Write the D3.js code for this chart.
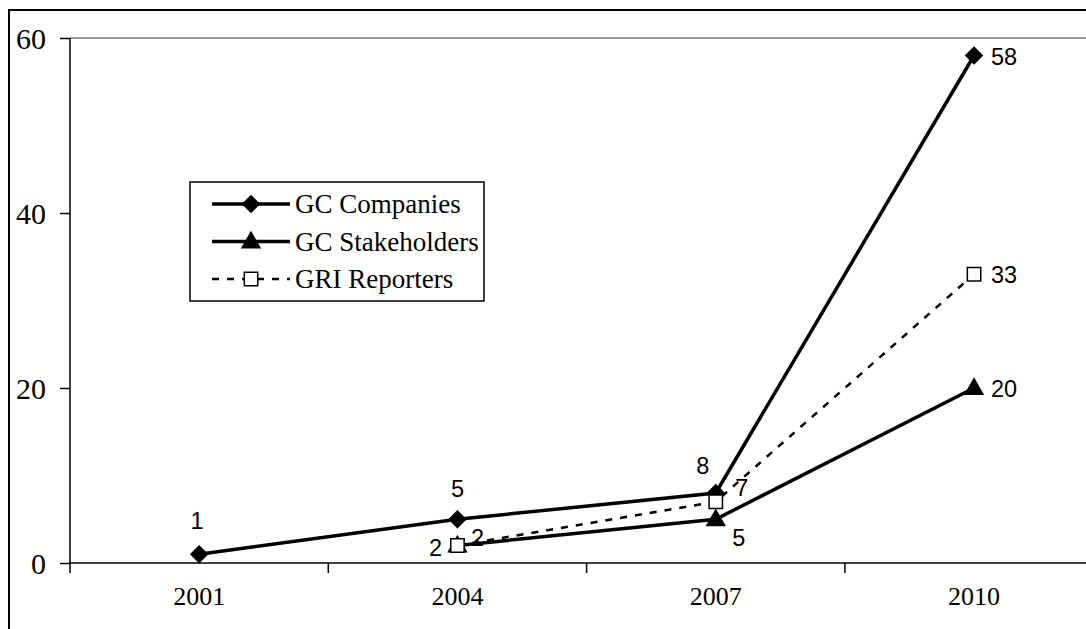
<!DOCTYPE html>
<html>
<head>
<meta charset="utf-8">
<script src="https://cdn.jsdelivr.net/npm/d3@7"></script>
<style>
  body { margin: 0; background: #fff; }
  svg { display: block; }
</style>
</head>
<body>
<svg width="1086" height="629"></svg>
<script>
// chart values
const years = ['2001', '2004', '2007', '2010']
const gcCompanies = [1, 5, 8, 58]
const gcStakeholders = [null, 2, 5, 20]
const griReporters = [null, 2, 7, 33]
const yTicks = [0, 20, 40, 60]
const seriesNames = ['GC Companies', 'GC Stakeholders', 'GRI Reporters']

// label placement per series (dx, dy, anchor) - styling only
const labelPlace = {
    'GC Companies':    [[-2, -25, 'middle'], [0, -22.5, 'middle'], [-13, -19.5, 'middle'], [17, 9, 'start']],
    'GC Stakeholders': [null, [-22, 10, 'middle'], [23, 26.5, 'middle'], [17, 9, 'start']],
    'GRI Reporters':   [null, [20, 0, 'middle'], [26, -6, 'middle'], [17, 9, 'start']]
}

const svg = d3.select('svg')
const plot = {left: 70, top: 38, bottom: 563, bandW: 258.3}

const x = d3.scaleBand()
    .domain(years)
    .range([plot.left, plot.left + plot.bandW * years.length])
    .paddingInner(0).paddingOuter(0)
const cx = d => x(d) + x.bandwidth() / 2

const y = d3.scaleLinear()
    .domain([0, 60])
    .range([plot.bottom, plot.top])

// outer frame
svg.append('rect')
    .attr('x', 9).attr('y', 10)
    .attr('width', 1200).attr('height', 700)
    .attr('fill', 'none').attr('stroke', '#000').attr('stroke-width', 2)

// top plot border (gray)
svg.append('line')
    .attr('x1', plot.left).attr('x2', 1100)
    .attr('y1', y(60)).attr('y2', y(60))
    .attr('stroke', '#999').attr('stroke-width', 2)

// y axis
const yAxis = svg.append('g')
    .attr('transform', `translate(${plot.left},0)`)
    .call(d3.axisLeft(y).tickValues(yTicks).tickSize(10).tickPadding(14).tickFormat(d3.format('d')))
yAxis.select('.domain').attr('stroke', '#000').attr('stroke-width', 1.5)
    .attr('d', `M0,${plot.top}V${plot.bottom + 10}`)
yAxis.selectAll('.tick line').attr('stroke', '#000').attr('stroke-width', 1.5)
yAxis.selectAll('text')
    .style('font-family', '"Liberation Serif", "Times New Roman", serif')
    .style('font-size', '30px').attr('fill', '#000').attr('dy', '0.34em')

// x axis: labels centred in bands, ticks on band edges
const xAxis = svg.append('g')
    .attr('transform', `translate(0,${plot.bottom})`)
    .call(d3.axisBottom(x).tickSize(0).tickPadding(42))
xAxis.select('.domain').attr('stroke', '#000').attr('stroke-width', 1.5)
    .attr('d', `M${plot.left},0H1100`)
xAxis.selectAll('text')
    .style('font-family', '"Liberation Serif", "Times New Roman", serif')
    .style('font-size', '26px').attr('fill', '#000').attr('dy', '0')
xAxis.selectAll('.edge')
    .data(years)
    .enter()
    .append('line')
    .attr('x1', d => x(d) + x.bandwidth()).attr('x2', d => x(d) + x.bandwidth())
    .attr('y1', 0).attr('y2', 10)
    .attr('stroke', '#000').attr('stroke-width', 1.5)

const series = [
    {name: seriesNames[0], values: gcCompanies, marker: 'diamond', dash: null},
    {name: seriesNames[1], values: gcStakeholders, marker: 'triangle', dash: null},
    {name: seriesNames[2], values: griReporters, marker: 'square', dash: '7,8'}
]

const symbolFor = {
    diamond: d3.symbol().type(d3.symbolDiamond2).size(220),
    triangle: d3.symbol().type(d3.symbolTriangle).size(180),
    square: d3.symbol().type(d3.symbolSquare).size(180)
}

function drawMarker(g, type, px, py) {
    const m = g.append('path')
        .attr('d', symbolFor[type]())
        .attr('transform', `translate(${px},${py})`)
    if (type === 'square') {
        m.attr('fill', '#fff').attr('stroke', '#000').attr('stroke-width', 1.5)
    } else if (type === 'triangle') {
        m.attr('fill', '#000').attr('transform', `translate(${px},${py + 1})`)
    } else {
        m.attr('fill', '#000')
    }
}

const line = d3.line()
    .defined(d => d.v != null)
    .x(d => cx(d.year))
    .y(d => y(d.v))

// lines first, then markers, GRI squares on top
const layers = series.map(s => {
    const pts = years.map((yr, i) => ({year: yr, v: s.values[i]}))
    svg.append('path')
        .datum(pts)
        .attr('d', line)
        .attr('fill', 'none')
        .attr('stroke', '#000')
        .attr('stroke-width', s.dash ? 2.5 : 3.5)
        .attr('stroke-dasharray', s.dash)
    return {s, pts}
})
layers.forEach(({s, pts}) => {
    const g = svg.append('g')
    pts.filter(d => d.v != null).forEach(d => drawMarker(g, s.marker, cx(d.year), y(d.v)))
})
layers.forEach(({s, pts}) => {
    pts.forEach((d, i) => {
        if (d.v == null) return
        const p = labelPlace[s.name][i]
        svg.append('text')
            .attr('x', cx(d.year) + p[0])
            .attr('y', y(d.v) + p[1])
            .attr('text-anchor', p[2])
            .style('font-family', '"Liberation Sans", Arial, sans-serif')
            .style('font-size', '23.5px')
            .text(d.v)
    })
})

// legend
const legend = svg.append('g')
legend.append('rect')
    .attr('x', 190).attr('y', 182)
    .attr('width', 294).attr('height', 119)
    .attr('fill', '#fff').attr('stroke', '#000').attr('stroke-width', 1.5)
series.forEach((s, i) => {
    const ly = 204 + i * 37.5
    legend.append('line')
        .attr('x1', 212).attr('x2', 290)
        .attr('y1', ly).attr('y2', ly)
        .attr('stroke', '#000')
        .attr('stroke-width', s.dash ? 2.5 : 3.5)
        .attr('stroke-dasharray', s.dash ? '7,8' : null)
    drawMarker(legend, s.marker, 251, ly)
    legend.append('text')
        .attr('x', 295).attr('y', ly + 9)
        .style('font-family', '"Liberation Serif", "Times New Roman", serif')
        .style('font-size', '27px')
        .text(s.name)
})
</script>
</body>
</html>
